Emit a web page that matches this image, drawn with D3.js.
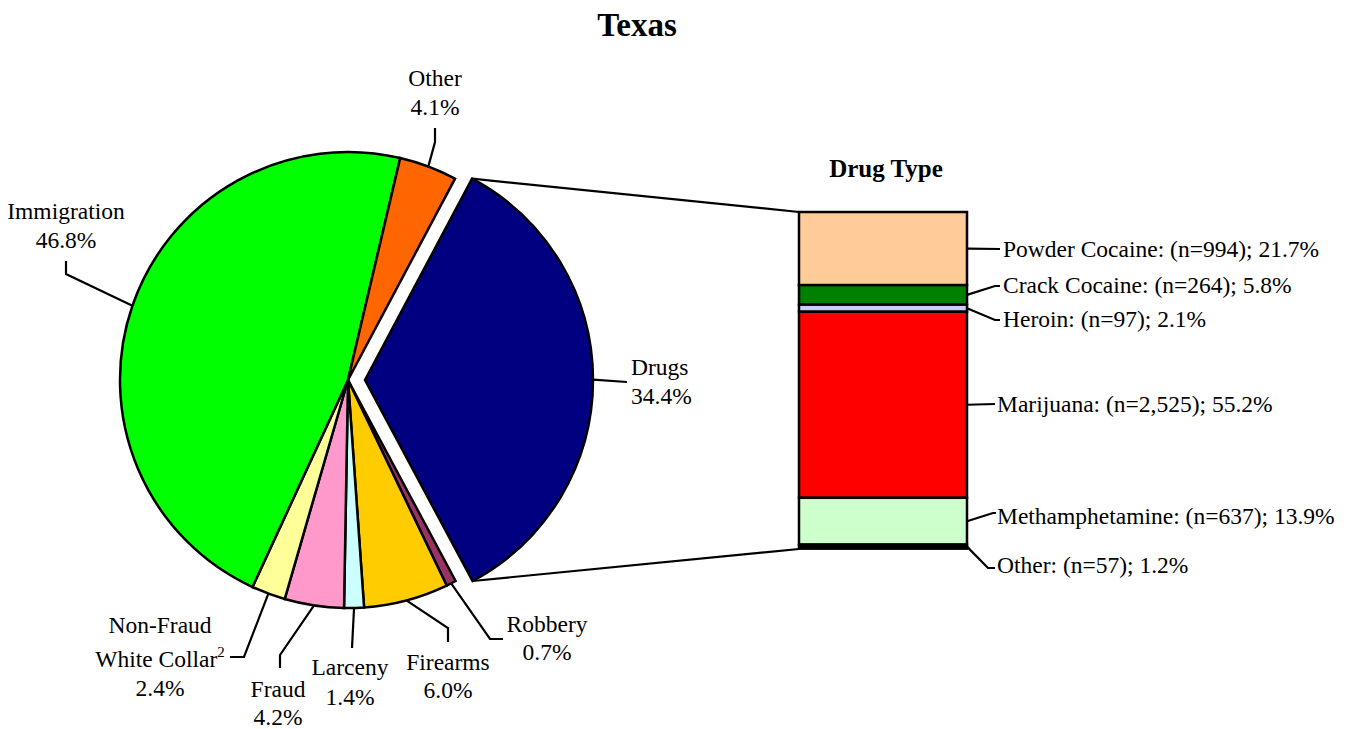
<!DOCTYPE html>
<html>
<head>
<meta charset="utf-8">
<script src="https://cdn.jsdelivr.net/npm/d3@7"></script>
<style>
  html, body { margin: 0; padding: 0; background: #fff; }
  svg { display: block; font-family: "Liberation Serif", "Times New Roman", serif; }
</style>
</head>
<body>
<div id="chart"></div>
<script>
// offense categories (pie)
const offenseNames = ["Drugs", "Robbery", "Firearms", "Larceny", "Fraud", "Non-Fraud White Collar", "Immigration", "Other"];
const offensePercents = [34.4, 0.7, 6.0, 1.4, 4.2, 2.4, 46.8, 4.1];
const offenseColors = ["#000080", "#993366", "#FFCC00", "#CCFFFF", "#FF99CC", "#FFFF99", "#00FF00", "#FF6600"];

// drug type breakdown (stacked bar)
const drugNames = ["Powder Cocaine", "Crack Cocaine", "Heroin", "Marijuana", "Methamphetamine", "Other"];
const drugCounts = [994, 264, 97, 2525, 637, 57];
const drugPercents = [21.7, 5.8, 2.1, 55.2, 13.9, 1.2];
const drugColors = ["#FFCC99", "#008000", "#CCCCFF", "#FF0000", "#CCFFCC", "#000000"];

const width = 1363, height = 729;
const cx = 348, cy = 380, radius = 228;
const explode = 17;
const startDeg = 28;

// where each pie label sits (elbow points + text)
const pieLabelLayout = {
    "Other":       { pts: [[435, 142], [435, 128]], x: 435, ys: [86, 115], anchor: "middle" },
    "Immigration": { pts: [[66, 274], [66, 261]], x: 66, ys: [219, 248], anchor: "middle" },
    "Drugs":       { pts: [[627, 382]], x: 631, ys: [375, 404], anchor: "start" },
    "Robbery":     { pts: [[490, 639], [503, 639]], x: 547, ys: [632, 660], anchor: "middle" },
    "Firearms":    { pts: [[448, 628], [448, 642]], x: 448, ys: [670, 698], anchor: "middle" },
    "Larceny":     { pts: [[352, 648]], x: 350, ys: [675, 705], anchor: "middle" },
    "Fraud":       { pts: [[280, 655], [280, 668]], x: 278, ys: [697, 725], anchor: "middle" },
    "Non-Fraud White Collar": { pts: [[244, 657], [230, 657]], x: 160, ys: [633, 667, 696], anchor: "middle" }
};

// bar label elbows, text left edge and baseline
const barLabelLayout = [
    { elbow: [1000, 249], x: 1003, y: 257 },
    { elbow: [995, 286], end: [1000, 286], x: 1003, y: 293 },
    { elbow: [995, 320], end: [1000, 320], x: 1003, y: 327 },
    { elbow: [995, 404], x: 997, y: 412 },
    { elbow: [993, 513], end: [996, 513], x: 997, y: 524 },
    { elbow: [988, 568], end: [995, 568], x: 997, y: 573 }
];

const svg = d3.select("#chart").append("svg")
    .attr("width", width)
    .attr("height", height);

// title
svg.append("text")
    .attr("x", 637).attr("y", 36)
    .attr("text-anchor", "middle")
    .attr("font-size", 33).attr("font-weight", "bold")
    .text("Texas");

// pie
const slices = offenseNames.map((name, i) => ({ name, value: offensePercents[i], color: offenseColors[i] }));
const a0 = startDeg * Math.PI / 180;
const pie = d3.pie().value(d => d.value).sort(null).startAngle(a0).endAngle(a0 + 2 * Math.PI);
const arcs = pie(slices);
const arc = d3.arc().innerRadius(0).outerRadius(radius);

function offsetOf(d) {
    if (d.data.name !== "Drugs") return [0, 0];
    const m = (d.startAngle + d.endAngle) / 2;
    return [explode * Math.sin(m), -explode * Math.cos(m)];
}

const pieG = svg.append("g").attr("transform", `translate(${cx},${cy})`);

pieG.selectAll("path")
    .data(arcs)
    .join("path")
    .attr("d", arc)
    .attr("transform", d => `translate(${offsetOf(d)})`)
    .attr("fill", d => d.data.color)
    .attr("stroke", "#000")
    .attr("stroke-width", 2.5)
    .attr("stroke-linejoin", "miter");

// pie label leaders
const leader = d3.line();
arcs.forEach(d => {
    const lay = pieLabelLayout[d.data.name];
    const m = (d.startAngle + d.endAngle) / 2;
    const off = offsetOf(d);
    const p0 = [cx + off[0] + radius * Math.sin(m), cy + off[1] - radius * Math.cos(m)];
    svg.append("path")
        .attr("d", leader([p0, ...lay.pts]))
        .attr("fill", "none")
        .attr("stroke", "#000")
        .attr("stroke-width", 2.2);

    const pct = d.data.value.toFixed(1) + "%";
    let lines;
    if (d.data.name === "Non-Fraud White Collar") lines = ["Non-Fraud", "White Collar", pct];
    else lines = [d.data.name, pct];

    lines.forEach((ln, i) => {
        const t = svg.append("text")
            .attr("x", lay.x).attr("y", lay.ys[i])
            .attr("text-anchor", lay.anchor)
            .attr("font-size", 23.5)
            .text(ln);
        if (ln === "White Collar") {
            t.append("tspan")
                .attr("font-size", 15)
                .attr("dy", -10)
                .text("2");
        }
    });
});

// stacked bar
const barX0 = 799, barX1 = 967;
const y = d3.scaleLinear().domain([0, 100]).range([212, 549]);

let cum = 0;
const segs = drugNames.map((name, i) => {
    const s = { name, count: drugCounts[i], pct: drugPercents[i], color: drugColors[i], y0: cum, y1: cum + drugPercents[i] };
    cum += drugPercents[i];
    return s;
});

svg.append("text")
    .attr("x", 886).attr("y", 177)
    .attr("text-anchor", "middle")
    .attr("font-size", 25).attr("font-weight", "bold")
    .text("Drug Type");

svg.selectAll("rect.seg")
    .data(segs)
    .join("rect")
    .attr("class", "seg")
    .attr("x", barX0)
    .attr("y", d => y(d.y0))
    .attr("width", barX1 - barX0)
    .attr("height", d => y(d.y1) - y(d.y0))
    .attr("fill", d => d.color)
    .attr("stroke", "#000")
    .attr("stroke-width", 2.5);

// connector lines from the exploded slice to the bar
const drugArc = arcs.find(d => d.data.name === "Drugs");
const dOff = offsetOf(drugArc);
const topPt = [cx + dOff[0] + radius * Math.sin(drugArc.startAngle), cy + dOff[1] - radius * Math.cos(drugArc.startAngle)];
const botPt = [cx + dOff[0] + radius * Math.sin(drugArc.endAngle), cy + dOff[1] - radius * Math.cos(drugArc.endAngle)];
svg.append("path").attr("d", leader([topPt, [barX0, y(0)]]))
    .attr("stroke", "#000").attr("stroke-width", 2.2).attr("fill", "none");
svg.append("path").attr("d", leader([botPt, [barX0, y(100)]]))
    .attr("stroke", "#000").attr("stroke-width", 2.2).attr("fill", "none");

// bar labels
const fmtN = d3.format(",");
segs.forEach((s, i) => {
    const lay = barLabelLayout[i];
    const mid = (y(s.y0) + y(s.y1)) / 2;
    const pts = [[barX1, mid], lay.elbow];
    if (lay.end) pts.push(lay.end);
    svg.append("path")
        .attr("d", leader(pts))
        .attr("fill", "none")
        .attr("stroke", "#000")
        .attr("stroke-width", 2.2);
    svg.append("text")
        .attr("x", lay.x).attr("y", lay.y)
        .attr("font-size", 23.5)
        .text(`${s.name}: (n=${fmtN(s.count)}); ${s.pct.toFixed(1)}%`);
});
</script>
</body>
</html>
